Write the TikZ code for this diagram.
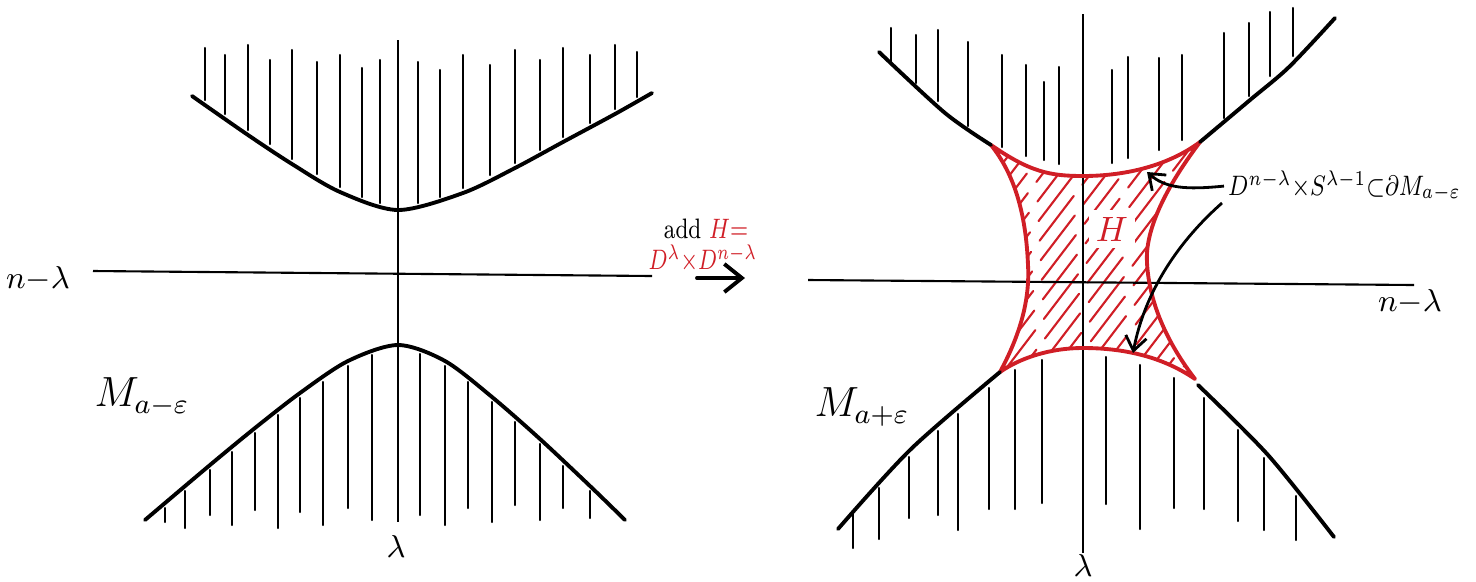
\documentclass[tikz,border=0pt]{standalone}
\usepackage{amsmath}
\usepackage{graphicx}
\usetikzlibrary{arrows.meta}
\definecolor{penred}{RGB}{208,30,38}
\tikzset{
  pen/.style={line width=1.1pt, line cap=round, line join=round},
  axis/.style={line width=0.6pt},
  hatch/.style={line width=0.6pt, line cap=round},
  redpen/.style={penred, line width=1.1pt, line join=round},
  redhatch/.style={penred, line width=0.6pt, line cap=round, dash pattern=on 16pt off 4pt},
  arrowpen/.style={line width=0.8pt, -{Straight Barb[length=4pt,width=6pt]}},
  tag/.style={inner sep=1pt},
}
\def\handle{(I) .. controls (1030,172) and (1050,176) .. (1083,176)
  .. controls (1120,176) and (1165,168) .. (J)
  .. controls (1160,195) and (1145,235) .. (1147,263)
  .. controls (1149,300) and (1165,340) .. (K)
  .. controls (1160,355) and (1120,348) .. (1083,348)
  .. controls (1050,348) and (1020,358) .. (L)
  .. controls (1020,335) and (1030,300) .. (1028,265)
  .. controls (1026,215) and (1015,175) .. (I) -- cycle}

\begin{document}
\begin{tikzpicture}[x=0.01cm, y=-0.01cm]
  \useasboundingbox (0,0) rectangle (1476,581);

  % Coordinates
  \coordinate (A) at (93,271);
  \coordinate (B) at (652,276);
  \coordinate (C) at (398,40);
  \coordinate (D) at (398,522);
  \coordinate (E) at (808,280);
  \coordinate (F) at (1414,285);
  \coordinate (G) at (1083,14);
  \coordinate (H) at (1083,553);
  \coordinate (I) at (991,145);
  \coordinate (J) at (1200,142);
  \coordinate (K) at (1195,379);
  \coordinate (L) at (1000,372);
  \coordinate (P) at (1147,172);
  \coordinate (Q) at (1222,203);
  \coordinate (R) at (1133,353);
  \coordinate (S) at (697,278);
  \coordinate (T) at (745,278);

  % Left picture
  \draw[axis] (A) -- (B);
  \draw[axis] (C) -- (D);
  \draw[pen] plot[smooth] coordinates {(192,96) (248,135) (292,164) (340,192) (398,210) (463,193) (515,168) (563,142) (615,114) (652,93)};
  \draw[pen] plot[smooth] coordinates {(145,520) (210,465) (255,428) (300,393) (348,361) (398,345) (445,361) (492,397) (540,439) (590,486) (625,520)};
  \foreach \x/\ya/\yb in {205/48/100, 225/55/114, 248/45/130, 270/60/144, 292/50/159,
      317/62/174, 340/55/187, 362/68/197, 380/60/203, 418/62/203, 440/70/197,
      463/55/188, 490/65/175, 515/50/163, 540/60/150, 563/48/137, 590/55/123,
      615/45/109, 637/52/97}
    \draw[hatch] (\x,\ya) -- (\x,\yb);
  \foreach \x/\ya/\yb in {165/508/522, 185/491/528, 210/470/515, 232/452/525,
      255/433/510, 278/415/528, 300/398/512, 323/382/525, 348/366/508, 372/355/520,
      420/354/515, 445/366/525, 468/382/508, 492/402/522, 515/422/505, 540/444/520,
      563/466/508, 590/491/518}
    \draw[hatch] (\x,\ya) -- (\x,\yb);
  \node[tag, font=\small] (nl) at (38,279) {$n{-}\lambda$};
  \node[tag, font=\small] (ll) at (396,546) {$\lambda$};
  \node[tag, font=\large] (ml) at (142,397) {$M_{a-\varepsilon}$};

  % Middle arrow
  \node[tag, font=\footnotesize] (add) at (706,229) {\scalebox{0.78}[1]{add \textcolor{penred}{$H{=}$}}};
  \node[tag, font=\footnotesize, penred] (hd) at (703,259) {\scalebox{0.75}[1]{$D^{\lambda}{\times}D^{n{-}\lambda}$}};
  \draw[pen, -{Straight Barb[length=5pt,width=8pt]}] (S) -- (T);

  % Right picture
  \begin{scope}
    \clip \handle;
    \foreach \k [count=\i, evaluate=\i as \ph using {mod(7*\i,20)}] in {790,806,...,1190}
      \draw[redhatch, dash phase=\ph pt] (\k,400) -- ++(290,-380);
  \end{scope}
  \draw[axis] (E) -- (F);
  \draw[axis] (G) -- (H);
  \draw[redpen] \handle;
  \draw[pen] plot[smooth] coordinates {(879,52) (945,113) (I)};
  \draw[pen] plot[smooth] coordinates {(J) (1250,100) (1289,67) (1335,18)};
  \draw[pen] plot[smooth] coordinates {(L) (911,449) (838,529)};
  \draw[pen] plot[smooth] coordinates {(1198,385) (1268,455) (1334,537)};
  \foreach \x/\ya/\yb in {891/28/62, 916/35/83, 938/30/101, 968/42/126, 1002/55/147,
      1026/65/156, 1044/82/160, 1059/67/164, 1112/70/163, 1128/57/158, 1159/58/150,
      1182/55/140, 1224/33/118, 1249/23/96, 1270/12/76, 1293/8/56}
    \draw[hatch] (\x,\ya) -- (\x,\yb);
  \foreach \x/\ya/\yb in {853/514/548, 879/488/539, 909/457/518, 938/431/515,
      958/414/530, 989/388/509, 1015/370/509, 1042/360/503, 1106/357/504,
      1140/365/529, 1174/378/508, 1204/398/509, 1238/430/521, 1264/458/530,
      1296/496/540}
    \draw[hatch] (\x,\ya) -- (\x,\yb);
  \node[tag, font=\small] (nr) at (1410,302) {$n{-}\lambda$};
  \node[tag, font=\small] (lr) at (1083,565) {$\lambda$};
  \node[tag, font=\large] (mr) at (862,407) {$M_{a+\varepsilon}$};
  \node[tag, penred, fill=white, inner sep=2pt] (hl) at (1112,229) {$H$};
  \node[tag, font=\footnotesize, anchor=base west] (bd) at (1224,195) {\scalebox{0.8}[1]{$D^{n{-}\lambda}{\times}S^{\lambda{-}1}{\subset}\partial M_{a-\varepsilon}$}};
  \draw[arrowpen] (bd.west) .. controls (1185,190) and (1165,188) .. (P);
  \draw[arrowpen] (Q) .. controls (1180,240) and (1145,290) .. (R);
\end{tikzpicture}
\end{document}
